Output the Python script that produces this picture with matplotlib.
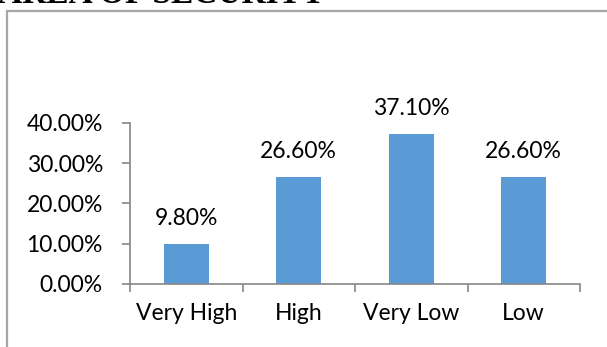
import matplotlib
matplotlib.use("Agg")
import matplotlib.pyplot as plt
from matplotlib.patches import Rectangle
from matplotlib.ticker import FixedLocator, NullFormatter

categories = ["Very High", "High", "Very Low", "Low"]
values = [0.098, 0.266, 0.371, 0.266]
y_ticks = [0.0, 0.1, 0.2, 0.3, 0.4]
title = "AREA OF SECURITY"

W, H = 607, 347
fig = plt.figure(figsize=(W / 100, H / 100), dpi=100)
fig.patch.set_facecolor("white")

# outer chart frame (runs off the right and bottom edges)
fig.add_artist(Rectangle((7 / W, -0.05), 1.1, 1.05 - 11 / H, transform=fig.transFigure,
                         fill=False, edgecolor="#a6a6a6", linewidth=1.6))

# heading, mostly cut off at the top
fig.text(-2 / W, 1 - 3 / H, title, fontsize=24, fontweight="bold",
         family=["Liberation Serif", "DejaVu Serif"], va="baseline", ha="left")

ax = fig.add_axes([130 / W, 1 - 284 / H, (580 - 130) / W, (284 - 122.7) / H])
x = list(range(len(categories)))
ax.bar(x, values, width=0.4, color="#5b9bd5", zorder=2)
ax.set_xlim(-0.5, len(categories) - 0.5)
ax.set_ylim(0, 0.4)

font = ["Lato", "DejaVu Sans"]
ax.set_yticks(y_ticks)
ax.set_yticklabels([f"{v * 100:.2f}%" for v in y_ticks], family=font, fontsize=16.5)
ax.xaxis.set_major_locator(FixedLocator([i - 0.5 for i in range(len(categories) + 1)]))
ax.xaxis.set_major_formatter(NullFormatter())
ax.xaxis.set_minor_locator(FixedLocator(x))
ax.set_xticklabels(categories, minor=True, family=font, fontsize=16.5)

axis_col = "#868686"
for s in ["top", "right"]:
    ax.spines[s].set_visible(False)
for s in ["left", "bottom"]:
    ax.spines[s].set_color(axis_col)
    ax.spines[s].set_linewidth(1.2)
ax.tick_params(axis="y", which="major", direction="out", length=5.5, width=1.2,
               color=axis_col, pad=14, labelcolor="black")
ax.tick_params(axis="x", which="major", direction="out", length=5.5, width=1.2,
               color=axis_col)
ax.tick_params(axis="x", which="minor", length=0, pad=14, labelcolor="black")

for xi, v in zip(x, values):
    ax.annotate(f"{v * 100:.2f}%", (xi, v), xytext=(0, 13.7), textcoords="offset points",
                ha="center", va="baseline", family=font, fontsize=16.5)

fig.savefig("out.png", dpi=100)
